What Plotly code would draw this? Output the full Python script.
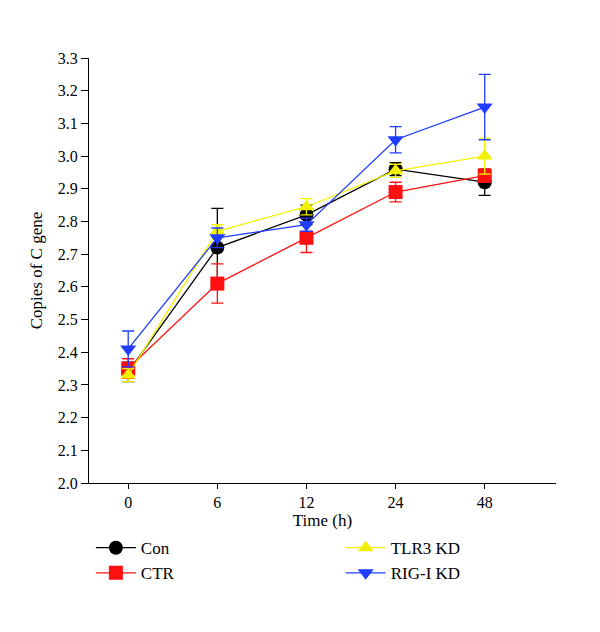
import plotly.graph_objects as go

time_labels = ["0", "6", "12", "24", "48"]
x_pos = [0, 1, 2, 3, 4]

con = [2.34, 2.72, 2.82, 2.96, 2.92]
con_err = [0.03, 0.12, 0.03, 0.02, 0.04]
ctr = [2.35, 2.61, 2.75, 2.89, 2.94]
ctr_err = [0.03, 0.06, 0.045, 0.03, 0.02]
tlr3 = [2.33, 2.77, 2.845, 2.955, 3.00]
tlr3_err = [0.02, 0.02, 0.025, 0.02, 0.055]
rig = [2.41, 2.75, 2.79, 3.05, 3.15]
rig_err = [0.055, 0.03, 0.02, 0.04, 0.10]

y_ticks = [round(2.0 + 0.1 * i, 1) for i in range(14)]

font = "Liberation Serif, Times New Roman, serif"

series = [
    ("Con", con, con_err, "#000000", "circle", "legend"),
    ("CTR", ctr, ctr_err, "#ff1010", "square", "legend"),
    ("TLR3 KD", tlr3, tlr3_err, "#f2f200", "triangle-up", "legend2"),
    ("RIG-I KD", rig, rig_err, "#1f3cff", "triangle-down", "legend2"),
]

fig = go.Figure()
for name, vals, errs, color, sym, leg in series:
    fig.add_trace(go.Scatter(
        x=x_pos, y=vals, name=name, mode="lines+markers",
        line=dict(color=color, width=1.3),
        marker=dict(symbol=sym, size=14, color=color),
        error_y=dict(type="data", array=errs, visible=True, color=color,
                     thickness=1.3, width=6),
        legend=leg,
    ))

leg_common = dict(orientation="v", yanchor="top", xanchor="left",
                  font=dict(size=17), tracegroupgap=0, itemwidth=40,
                  bgcolor="rgba(0,0,0,0)")

fig.update_layout(
    width=600, height=632,
    paper_bgcolor="white", plot_bgcolor="white",
    margin=dict(l=81, r=52, t=50, b=157),
    font=dict(family=font, size=16, color="black"),
    showlegend=True,
    legend=dict(x=0.004, y=-0.111, **leg_common),
    legend2=dict(x=0.539, y=-0.111, **leg_common),
    xaxis=dict(
        range=[-0.44, 4.8], tickvals=x_pos, ticktext=time_labels,
        showline=True, linecolor="black", linewidth=1.3,
        ticks="outside", ticklen=5, tickcolor="black", tickwidth=1.3,
        showgrid=False, zeroline=False,
        title=dict(text="Time (h)", font=dict(size=17), standoff=0),
    ),
    yaxis=dict(
        range=[2.0, 3.3], tickvals=y_ticks, ticktext=[f"{v:.1f}" for v in y_ticks],
        showline=True, linecolor="black", linewidth=1.3,
        ticks="outside", ticklen=7, tickcolor="black", tickwidth=1.3,
        showgrid=False, zeroline=False,
        title=dict(text="Copies of C gene", font=dict(size=17), standoff=10),
    ),
)

fig.write_html("out.html")
